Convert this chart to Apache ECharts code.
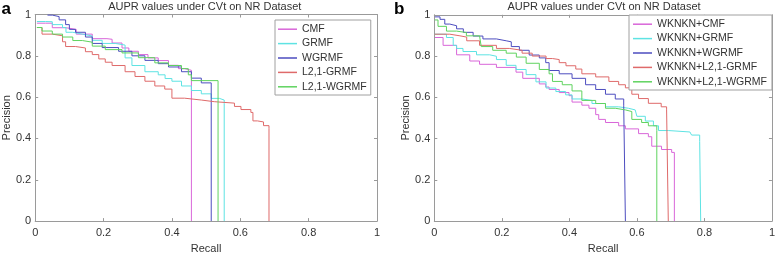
<!DOCTYPE html>
<html>
<head>
<meta charset="utf-8">
<script src="https://cdn.jsdelivr.net/npm/echarts@6/dist/echarts.min.js"></script>
<style>
  html, body { margin: 0; padding: 0; background: #fff; }
  #chart { width: 778px; height: 259px; }
</style>
</head>
<body>
<div id="chart"></div>
<script>
// ---------- data (recall, precision) ----------
const titleText = 'AUPR values under CVt on NR Dataset';
const panelLabels = ['a', 'b'];
const xAxisName = 'Recall';
const yAxisName = 'Precision';
const tickValues = [0, 0.2, 0.4, 0.6, 0.8, 1];

const namesA = ['CMF', 'GRMF', 'WGRMF', 'L2,1-GRMF', 'L2,1-WGRMF'];
const namesB = ['WKNKN+CMF', 'WKNKN+GRMF', 'WKNKN+WGRMF', 'WKNKN+L2,1-GRMF', 'WKNKN+L2,1-WGRMF'];

// Panel a
const aCMF = [[0.005,0.958],[0.03,0.958],[0.05,0.936],[0.09,0.928],[0.12,0.905],[0.167,0.883],[0.21,0.88],[0.225,0.862],[0.254,0.838],[0.274,0.822],[0.302,0.806],[0.33,0.79],[0.36,0.777],[0.39,0.754],[0.419,0.738],[0.437,0.73],[0.457,0.73],[0.457,0]];
const aGRMF = [[0.005,0.966],[0.03,0.965],[0.05,0.951],[0.08,0.937],[0.09,0.914],[0.11,0.905],[0.138,0.896],[0.167,0.875],[0.196,0.86],[0.234,0.852],[0.263,0.79],[0.283,0.753],[0.321,0.723],[0.36,0.708],[0.38,0.69],[0.4,0.677],[0.428,0.654],[0.457,0.632],[0.486,0.616],[0.515,0.594],[0.539,0.586],[0.553,0.57],[0.553,0]];
const aWGRMF = [[0.036,0.997],[0.05,0.99],[0.07,0.974],[0.089,0.951],[0.1,0.928],[0.118,0.914],[0.147,0.891],[0.167,0.86],[0.196,0.84],[0.244,0.822],[0.283,0.8],[0.321,0.778],[0.36,0.762],[0.39,0.746],[0.428,0.723],[0.457,0.692],[0.486,0.669],[0.515,0.662],[0.515,0]];
const aL21GRMF = [[0.005,0.937],[0.02,0.905],[0.05,0.897],[0.08,0.868],[0.089,0.845],[0.118,0.838],[0.147,0.82],[0.167,0.806],[0.186,0.785],[0.205,0.769],[0.225,0.753],[0.263,0.723],[0.292,0.7],[0.321,0.677],[0.35,0.654],[0.379,0.639],[0.4,0.595],[0.437,0.586],[0.486,0.578],[0.524,0.571],[0.583,0.555],[0.602,0.54],[0.631,0.526],[0.637,0.485],[0.65,0.48],[0.668,0.462],[0.684,0.449],[0.684,0]];
const aL21WGRMF = [[0.005,0.937],[0.02,0.92],[0.05,0.905],[0.08,0.891],[0.11,0.874],[0.138,0.866],[0.167,0.847],[0.205,0.83],[0.254,0.814],[0.302,0.791],[0.35,0.766],[0.39,0.753],[0.428,0.738],[0.448,0.708],[0.457,0.68],[0.535,0.68],[0.535,0]];

// Panel b
const bCMF = [[0.002,0.89],[0.026,0.852],[0.066,0.806],[0.105,0.776],[0.134,0.76],[0.184,0.745],[0.242,0.722],[0.262,0.692],[0.311,0.665],[0.33,0.65],[0.34,0.638],[0.37,0.623],[0.399,0.608],[0.408,0.577],[0.437,0.562],[0.458,0.547],[0.478,0.516],[0.487,0.493],[0.507,0.478],[0.546,0.462],[0.566,0.447],[0.605,0.424],[0.634,0.409],[0.644,0.363],[0.673,0.347],[0.703,0.333],[0.711,0.33],[0.711,0]];
const bGRMF = [[0.002,0.906],[0.026,0.906],[0.036,0.89],[0.056,0.852],[0.066,0.837],[0.085,0.822],[0.125,0.806],[0.164,0.799],[0.184,0.783],[0.213,0.755],[0.242,0.735],[0.272,0.71],[0.301,0.675],[0.331,0.645],[0.36,0.628],[0.389,0.612],[0.408,0.592],[0.437,0.585],[0.467,0.57],[0.507,0.554],[0.546,0.547],[0.575,0.539],[0.595,0.531],[0.6,0.508],[0.625,0.485],[0.649,0.462],[0.664,0.439],[0.693,0.432],[0.757,0.432],[0.762,0.417],[0.786,0.386],[0.789,0.386],[0.789,0]];
const bWGRMF = [[0.002,0.99],[0.017,0.978],[0.031,0.955],[0.046,0.947],[0.066,0.932],[0.086,0.915],[0.115,0.897],[0.144,0.883],[0.184,0.874],[0.213,0.869],[0.228,0.846],[0.252,0.828],[0.281,0.805],[0.311,0.791],[0.33,0.768],[0.34,0.73],[0.37,0.714],[0.408,0.692],[0.448,0.661],[0.478,0.638],[0.507,0.615],[0.536,0.592],[0.561,0.562],[0.566,0.562],[0.566,0]];
const bL21GRMF = [[0.002,0.906],[0.046,0.898],[0.076,0.892],[0.096,0.874],[0.134,0.852],[0.184,0.837],[0.222,0.828],[0.26,0.814],[0.29,0.8],[0.331,0.788],[0.35,0.783],[0.37,0.768],[0.39,0.753],[0.419,0.737],[0.437,0.714],[0.478,0.699],[0.517,0.677],[0.546,0.661],[0.566,0.646],[0.585,0.615],[0.605,0.594],[0.634,0.571],[0.672,0.554],[0.688,0.539],[0.693,0.53],[0.693,0]];
const bL21WGRMF = [[0.002,0.975],[0.011,0.944],[0.036,0.921],[0.066,0.914],[0.095,0.898],[0.134,0.892],[0.139,0.846],[0.173,0.828],[0.213,0.814],[0.243,0.795],[0.272,0.765],[0.311,0.735],[0.34,0.714],[0.35,0.677],[0.379,0.661],[0.408,0.631],[0.437,0.585],[0.478,0.57],[0.507,0.547],[0.536,0.539],[0.566,0.531],[0.585,0.493],[0.614,0.478],[0.634,0.462],[0.659,0.439],[0.659,0]];

// ---------- chart ----------
const dataA = [aCMF, aGRMF, aWGRMF, aL21GRMF, aL21WGRMF];
const dataB = [bCMF, bGRMF, bWGRMF, bL21GRMF, bL21WGRMF];
const colors = ['#d966d9', '#5ee3e3', '#4d4dbf', '#df6a6a', '#5fd35f'];
const FONT = 'Liberation Sans, Arial, sans-serif';
const AXIS_COLOR = '#9a9a9a';
const TEXT_COLOR = '#333';

const grids = [
  { left: 32.5, top: 14.5, width: 344.5, height: 218.8 },
  { left: 434.3, top: 14.8, width: 339.7, height: 217.7 }
];

function axisBase(extra) {
  return Object.assign({
    type: 'value', min: 0, max: 1, interval: 0.2,
    splitLine: { show: false },
    axisLine: { show: true, onZero: false, lineStyle: { color: AXIS_COLOR, width: 1 } },
    axisTick: { show: true, inside: true, length: 3, lineStyle: { color: AXIS_COLOR } },
    axisLabel: { show: true, color: TEXT_COLOR, fontSize: 11, fontFamily: FONT },
    nameTextStyle: { color: TEXT_COLOR, fontSize: 11, fontFamily: FONT }
  }, extra);
}

const xAxes = [], yAxes = [];
[0, 1].forEach(g => {
  xAxes.push(axisBase({ gridIndex: g, position: 'bottom', name: xAxisName, nameLocation: 'middle', nameGap: 13.5,
    axisLabel: { show: true, color: TEXT_COLOR, fontSize: 11, fontFamily: FONT, margin: 6 } }));
  xAxes.push(axisBase({ gridIndex: g, position: 'top', axisLabel: { show: false } }));
  yAxes.push(axisBase({ gridIndex: g, position: 'left', name: yAxisName, nameLocation: 'middle', nameGap: 20.5,
    axisLabel: { show: true, color: TEXT_COLOR, fontSize: 11, fontFamily: FONT, margin: 4 } }));
  yAxes.push(axisBase({ gridIndex: g, position: 'right', axisLabel: { show: false } }));
});

const series = [];
[[namesA, dataA, 0], [namesB, dataB, 1]].forEach(([names, datas, g]) => {
  names.forEach((n, i) => {
    series.push({
      name: n, type: 'line', step: 'end', symbol: 'none', showSymbol: false,
      xAxisIndex: g * 2, yAxisIndex: g * 2,
      color: colors[i],
      lineStyle: { color: colors[i], width: 1 },
      data: datas[i], animation: false, silent: true
    });
  });
});

const legendCommon = {
  orient: 'vertical', icon: 'rect', itemWidth: 19, itemHeight: 1.5, itemGap: 0,
  borderColor: '#a0a0a0', borderWidth: 1, backgroundColor: '#fff',
  textStyle: { color: TEXT_COLOR, fontSize: 10.5, fontFamily: FONT, lineHeight: 14.4 },
  selectedMode: false
};

const option = {
  animation: false,
  grid: grids,
  xAxis: xAxes,
  yAxis: yAxes,
  legend: [
    Object.assign({}, legendCommon, { data: namesA, left: 275, top: 20, padding: [2, 4, 1, 3] }),
    Object.assign({}, legendCommon, { data: namesB, left: 629, top: 15, padding: [2, 5, 1, 4] })
  ],
  graphic: [
    { type: 'text', x: 204.8, y: 6.5, style: { text: titleText, textAlign: 'center', textVerticalAlign: 'middle', fontSize: 11, fontFamily: FONT, fill: TEXT_COLOR } },
    { type: 'text', x: 604, y: 6.5, style: { text: titleText, textAlign: 'center', textVerticalAlign: 'middle', fontSize: 11, fontFamily: FONT, fill: TEXT_COLOR } },
    { type: 'text', x: 1.5, y: 9, style: { text: panelLabels[0], textAlign: 'left', textVerticalAlign: 'middle', fontSize: 17, fontWeight: 'bold', fontFamily: FONT, fill: '#000' } },
    { type: 'text', x: 394, y: 9, style: { text: panelLabels[1], textAlign: 'left', textVerticalAlign: 'middle', fontSize: 17, fontWeight: 'bold', fontFamily: FONT, fill: '#000' } }
  ],
  series: series
};

const chart = echarts.init(document.getElementById('chart'), null, { renderer: 'canvas' });
chart.setOption(option);
</script>
</body>
</html>
